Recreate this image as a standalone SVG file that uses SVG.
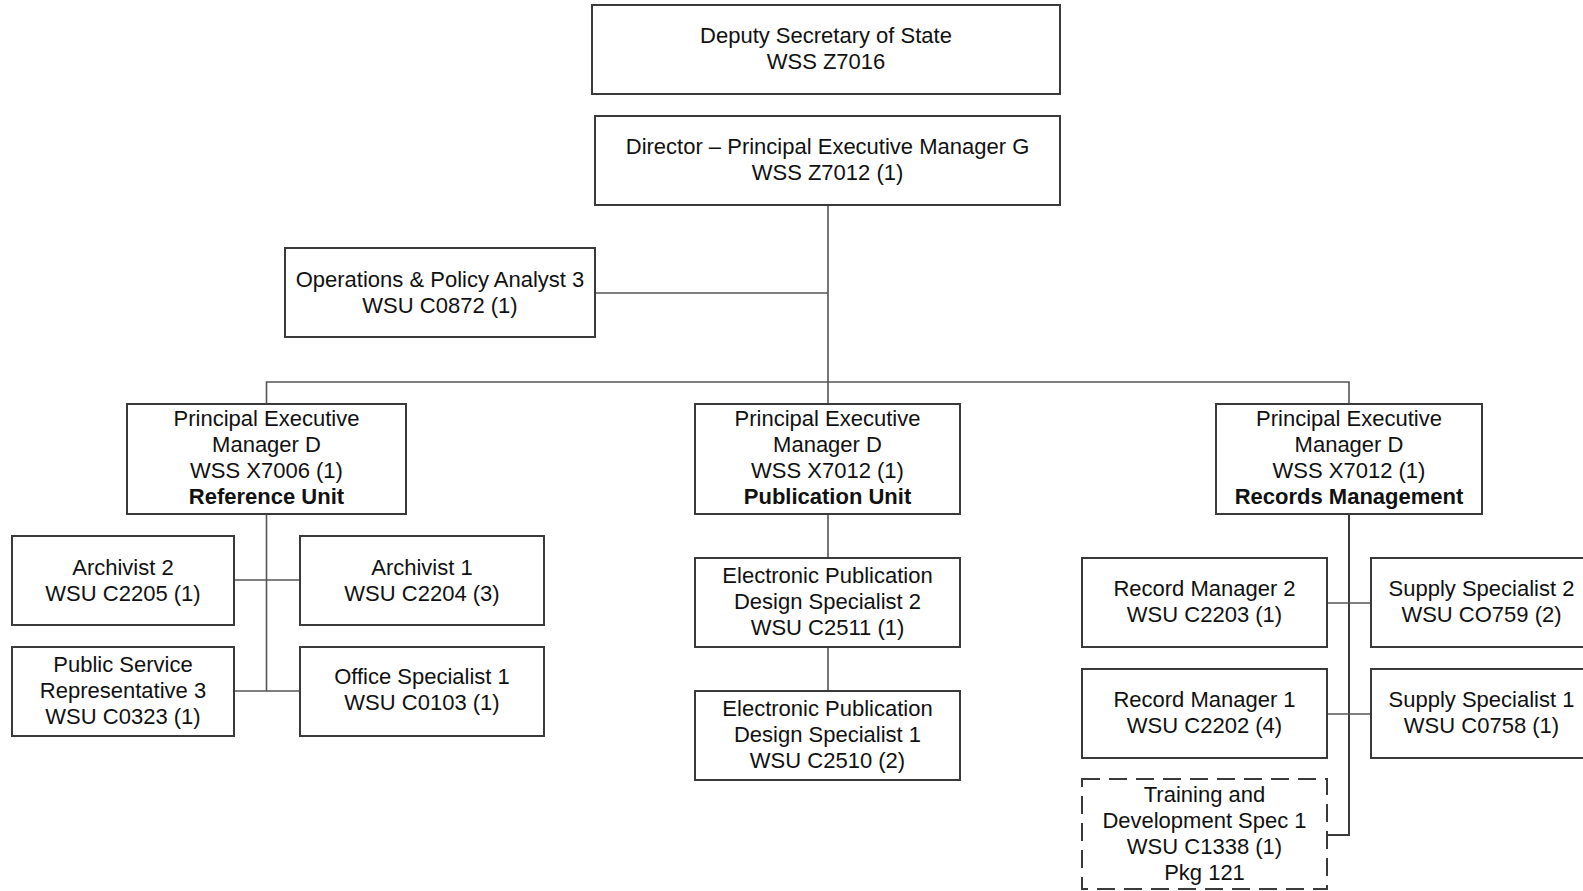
<svg xmlns="http://www.w3.org/2000/svg" width="1583" height="891" viewBox="0 0 1583 891">
  <style>
    .box { fill: #ffffff; stroke: #3a3a3a; stroke-width: 2; }
    .dash { stroke-dasharray: 18 9; }
    .lbl { font-family: "Liberation Sans", Arial, sans-serif; font-size: 22px; fill: #111111; text-anchor: middle; }
    .b { font-weight: bold; }
    .wire { fill: none; stroke: #555555; stroke-width: 1.6; }
    .wire.heavy { stroke: #3a3a3a; stroke-width: 2; }
  </style>
  <rect width="1583" height="891" fill="#ffffff"/>

  <g id="connectors">
    <path class="wire" d="M828 205 V404"/>
    <path class="wire" d="M595 293 H828"/>
    <path class="wire" d="M266.5 404 V382 H1349 V404"/>
    <path class="wire" d="M266.5 514 V691"/>
    <path class="wire" d="M234 580 H300"/>
    <path class="wire" d="M234 691 H300"/>
    <path class="wire" d="M828 514 V558"/>
    <path class="wire" d="M828 647 V691"/>
    <path class="wire heavy" d="M1349 514 V835 H1327"/>
    <path class="wire" d="M1327 603 H1371"/>
    <path class="wire" d="M1327 714 H1371"/>
  </g>

  <g id="deputy-secretary">
    <rect class="box" x="592" y="5" width="468" height="89"/>
    <text class="lbl" x="826" y="43"><tspan x="826">Deputy Secretary of State</tspan><tspan x="826" dy="26">WSS Z7016</tspan></text>
  </g>

  <g id="director">
    <rect class="box" x="595" y="116" width="465" height="89"/>
    <text class="lbl" x="827.5" y="154"><tspan x="827.5">Director – Principal Executive Manager G</tspan><tspan x="827.5" dy="26">WSS Z7012 (1)</tspan></text>
  </g>

  <g id="ops-policy-analyst">
    <rect class="box" x="285" y="248" width="310" height="89"/>
    <text class="lbl" x="440" y="287"><tspan x="440">Operations &amp; Policy Analyst 3</tspan><tspan x="440" dy="26">WSU C0872 (1)</tspan></text>
  </g>

  <g id="pem-reference">
    <rect class="box" x="127" y="404" width="279" height="110"/>
    <text class="lbl" x="266.5" y="426"><tspan x="266.5">Principal Executive</tspan><tspan x="266.5" dy="26">Manager D</tspan><tspan x="266.5" dy="26">WSS X7006 (1)</tspan><tspan x="266.5" dy="26" class="b">Reference Unit</tspan></text>
  </g>

  <g id="pem-publication">
    <rect class="box" x="695" y="404" width="265" height="110"/>
    <text class="lbl" x="827.5" y="426"><tspan x="827.5">Principal Executive</tspan><tspan x="827.5" dy="26">Manager D</tspan><tspan x="827.5" dy="26">WSS X7012 (1)</tspan><tspan x="827.5" dy="26" class="b">Publication Unit</tspan></text>
  </g>

  <g id="pem-records">
    <rect class="box" x="1216" y="404" width="266" height="110"/>
    <text class="lbl" x="1349" y="426"><tspan x="1349">Principal Executive</tspan><tspan x="1349" dy="26">Manager D</tspan><tspan x="1349" dy="26">WSS X7012 (1)</tspan><tspan x="1349" dy="26" class="b">Records Management</tspan></text>
  </g>

  <g id="archivist-2">
    <rect class="box" x="12" y="536" width="222" height="89"/>
    <text class="lbl" x="123" y="574.5"><tspan x="123">Archivist 2</tspan><tspan x="123" dy="26">WSU C2205 (1)</tspan></text>
  </g>

  <g id="archivist-1">
    <rect class="box" x="300" y="536" width="244" height="89"/>
    <text class="lbl" x="422" y="574.5"><tspan x="422">Archivist 1</tspan><tspan x="422" dy="26">WSU C2204 (3)</tspan></text>
  </g>

  <g id="public-service-rep">
    <rect class="box" x="12" y="647" width="222" height="89"/>
    <text class="lbl" x="123" y="671.5"><tspan x="123">Public Service</tspan><tspan x="123" dy="26">Representative 3</tspan><tspan x="123" dy="26">WSU C0323 (1)</tspan></text>
  </g>

  <g id="office-specialist">
    <rect class="box" x="300" y="647" width="244" height="89"/>
    <text class="lbl" x="422" y="684"><tspan x="422">Office Specialist 1</tspan><tspan x="422" dy="26">WSU C0103 (1)</tspan></text>
  </g>

  <g id="epds-2">
    <rect class="box" x="695" y="558" width="265" height="89"/>
    <text class="lbl" x="827.5" y="583"><tspan x="827.5">Electronic Publication</tspan><tspan x="827.5" dy="26">Design Specialist 2</tspan><tspan x="827.5" dy="26">WSU C2511 (1)</tspan></text>
  </g>

  <g id="epds-1">
    <rect class="box" x="695" y="691" width="265" height="89"/>
    <text class="lbl" x="827.5" y="716"><tspan x="827.5">Electronic Publication</tspan><tspan x="827.5" dy="26">Design Specialist 1</tspan><tspan x="827.5" dy="26">WSU C2510 (2)</tspan></text>
  </g>

  <g id="record-manager-2">
    <rect class="box" x="1082" y="558" width="245" height="89"/>
    <text class="lbl" x="1204.5" y="596"><tspan x="1204.5">Record Manager 2</tspan><tspan x="1204.5" dy="26">WSU C2203 (1)</tspan></text>
  </g>

  <g id="supply-specialist-2">
    <rect class="box" x="1371" y="558" width="221" height="89"/>
    <text class="lbl" x="1481.5" y="596"><tspan x="1481.5">Supply Specialist 2</tspan><tspan x="1481.5" dy="26">WSU CO759 (2)</tspan></text>
  </g>

  <g id="record-manager-1">
    <rect class="box" x="1082" y="669" width="245" height="89"/>
    <text class="lbl" x="1204.5" y="707"><tspan x="1204.5">Record Manager 1</tspan><tspan x="1204.5" dy="26">WSU C2202 (4)</tspan></text>
  </g>

  <g id="supply-specialist-1">
    <rect class="box" x="1371" y="669" width="221" height="89"/>
    <text class="lbl" x="1481.5" y="707"><tspan x="1481.5">Supply Specialist 1</tspan><tspan x="1481.5" dy="26">WSU C0758 (1)</tspan></text>
  </g>

  <g id="training-dev-spec">
    <rect class="box dash" x="1082" y="779" width="245" height="110"/>
    <text class="lbl" x="1204.5" y="802"><tspan x="1204.5">Training and</tspan><tspan x="1204.5" dy="26">Development Spec 1</tspan><tspan x="1204.5" dy="26">WSU C1338 (1)</tspan><tspan x="1204.5" dy="26">Pkg 121</tspan></text>
  </g>
</svg>
